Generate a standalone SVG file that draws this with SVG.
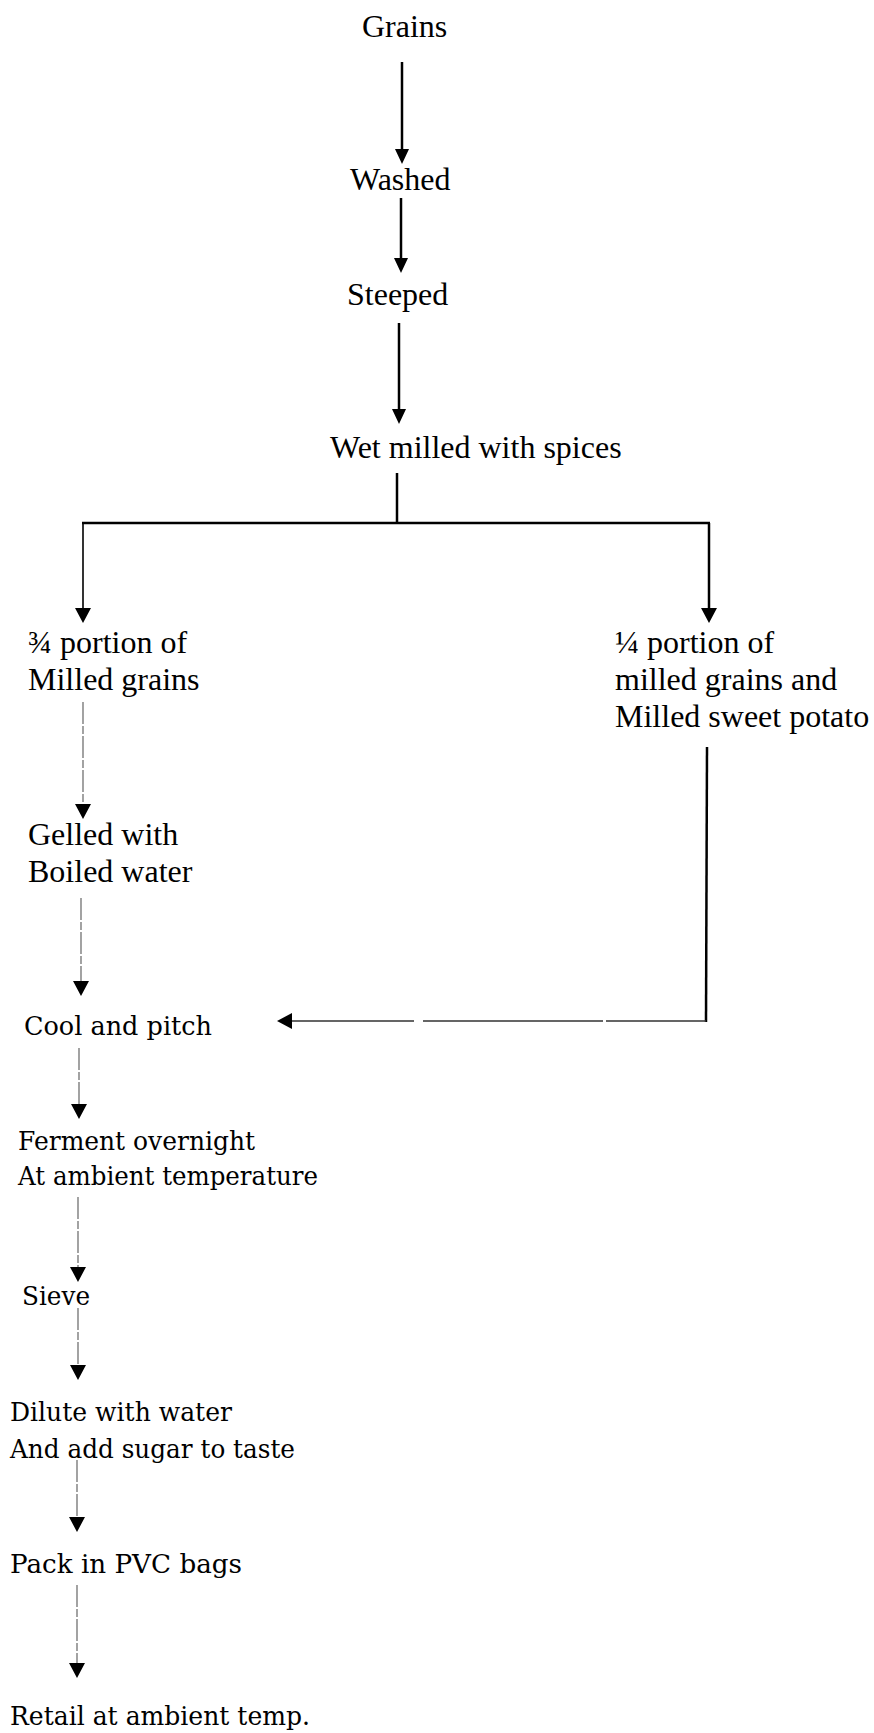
<svg xmlns="http://www.w3.org/2000/svg" width="874" height="1733" viewBox="0 0 874 1733">
<style>
.t{font-family:"Liberation Serif","Times New Roman",serif;font-size:32px;fill:#000}
.b{font-family:"DejaVu Serif","Liberation Serif",serif;font-size:25.5px;fill:#000}
.thick{stroke:#000;stroke-width:2.5;fill:none}
.mid{stroke:#000;stroke-width:1.6;fill:none}
.dot{stroke:#666;stroke-width:1.2;fill:none;stroke-dasharray:22 2 8 2}
.dash{stroke:#333;stroke-width:1.3;fill:none;stroke-dasharray:100 3 180 9 150 3}
</style>
<defs>
<marker id="ah" markerUnits="userSpaceOnUse" markerWidth="16" markerHeight="18" viewBox="0 0 16 18" refX="1" refY="8" orient="auto">
<path d="M0,0 L15,8 L0,16 Z" fill="#000"/>
</marker>
<marker id="ahs" markerUnits="userSpaceOnUse" markerWidth="16" markerHeight="16" viewBox="0 0 16 16" refX="1" refY="7" orient="auto">
<path d="M0,0 L15,7 L0,14 Z" fill="#000"/>
</marker>
</defs>
<g id="connectors">
<line class="thick" x1="402" y1="62" x2="402" y2="150" marker-end="url(#ahs)"/>
<line class="thick" x1="401" y1="198" x2="401" y2="259" marker-end="url(#ahs)"/>
<line class="thick" x1="399" y1="323" x2="399" y2="410" marker-end="url(#ahs)"/>
<line class="thick" x1="397" y1="473" x2="397" y2="523"/>
<line class="thick" x1="82" y1="523" x2="710" y2="523"/>
<line class="mid" x1="83" y1="523" x2="83" y2="609" marker-end="url(#ah)"/>
<line class="thick" x1="709" y1="523" x2="709" y2="609" marker-end="url(#ah)"/>
<line class="dot" x1="83" y1="702" x2="83" y2="805" marker-end="url(#ah)"/>
<line class="dot" x1="81" y1="898" x2="81" y2="982" marker-end="url(#ah)"/>
<line class="dot" x1="79" y1="1048" x2="79" y2="1105" marker-end="url(#ah)"/>
<line class="dot" x1="78" y1="1197" x2="78" y2="1268" marker-end="url(#ah)"/>
<line class="dot" x1="78" y1="1308" x2="78" y2="1366" marker-end="url(#ah)"/>
<line class="dot" x1="77" y1="1460" x2="77" y2="1518" marker-end="url(#ah)"/>
<line class="dot" x1="77" y1="1585" x2="77" y2="1664" marker-end="url(#ah)"/>
<line class="thick" x1="707" y1="747" x2="706" y2="1022"/>
<line class="dash" x1="706" y1="1021" x2="291" y2="1021" marker-end="url(#ah)"/>
</g>
<g id="n-grains"><text class="t" x="362" y="37">Grains</text></g>
<g id="n-washed"><text class="t" x="350" y="190">Washed</text></g>
<g id="n-steeped"><text class="t" x="347" y="305">Steeped</text></g>
<g id="n-wetmilled"><text class="t" x="330" y="458">Wet milled with spices</text></g>
<g id="n-three-quarter"><text class="t" x="28" y="653">¾ portion of</text><text class="t" x="28" y="690">Milled grains</text></g>
<g id="n-one-quarter"><text class="t" x="615" y="653">¼ portion of</text><text class="t" x="615" y="690">milled grains and</text><text class="t" x="615" y="727">Milled sweet potato</text></g>
<g id="n-gelled"><text class="t" x="28" y="845">Gelled with</text><text class="t" x="28" y="882">Boiled water</text></g>
<g id="n-cool"><text class="b" x="24" y="1035" textLength="188" lengthAdjust="spacingAndGlyphs">Cool and pitch</text></g>
<g id="n-ferment"><text class="b" x="18" y="1150" textLength="237" lengthAdjust="spacingAndGlyphs">Ferment overnight</text><text class="b" x="18" y="1185" textLength="300" lengthAdjust="spacingAndGlyphs">At ambient temperature</text></g>
<g id="n-sieve"><text class="b" x="22" y="1305" textLength="68" lengthAdjust="spacingAndGlyphs">Sieve</text></g>
<g id="n-dilute"><text class="b" x="10" y="1421" textLength="222" lengthAdjust="spacingAndGlyphs">Dilute with water</text><text class="b" x="10" y="1458" textLength="285" lengthAdjust="spacingAndGlyphs">And add sugar to taste</text></g>
<g id="n-pack"><text class="b" x="10" y="1573" textLength="232" lengthAdjust="spacingAndGlyphs">Pack in PVC bags</text></g>
<g id="n-retail"><text class="b" x="10" y="1725" textLength="300" lengthAdjust="spacingAndGlyphs">Retail at ambient temp.</text></g>
</svg>
